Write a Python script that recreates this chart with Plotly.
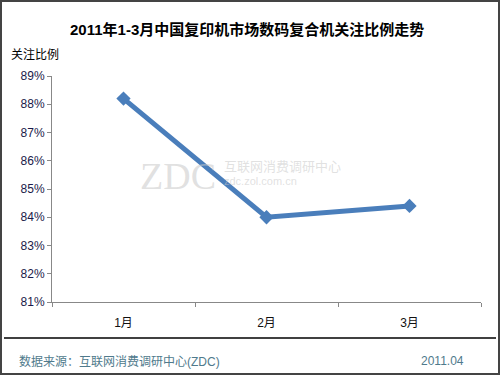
import plotly.graph_objects as go

months = ["1月", "2月", "3月"]
attention = [88.2, 84.0, 84.4]
y_ticks = [81, 82, 83, 84, 85, 86, 87, 88, 89]
y_labels = [f"{v}%" for v in y_ticks]

W, H = 500, 375
L, R, T, B = 52, 481, 76, 302

fig = go.Figure()
fig.add_trace(go.Scatter(
    x=months, y=attention, mode="lines+markers",
    line=dict(color="#4a7ebb", width=5),
    marker=dict(symbol="diamond", size=11, color="#4a7ebb"),
    showlegend=False, hoverinfo="skip",
))

font = "Liberation Sans, Noto Sans CJK SC, sans-serif"
fig.update_layout(
    width=W, height=H,
    margin=dict(l=L, r=W - R, t=T, b=H - B),
    paper_bgcolor="white", plot_bgcolor="white",
    font=dict(family=font, size=12, color="#111"),
    xaxis=dict(
        type="category", range=[-0.5, 2.5], tickson="boundaries",
        showgrid=False, showline=True, linecolor="#888", linewidth=1,
        ticks="outside", ticklen=4, tickcolor="#888",
        tickfont=dict(size=12, color="#111"), ticklabelstandoff=10,
        zeroline=False, fixedrange=True,
    ),
    yaxis=dict(
        range=[81, 89], tickvals=y_ticks, ticktext=y_labels,
        showgrid=False, showline=True, linecolor="#888", linewidth=1,
        ticks="outside", ticklen=4, tickcolor="#888",
        tickfont=dict(size=12, color="#1a1a4a"),
        zeroline=False, fixedrange=True,
    ),
    shapes=[
        dict(type="rect", xref="paper", yref="paper",
             x0=-L / (R - L) + 1 / (R - L), x1=1 + (W - R - 1) / (R - L),
             y0=-(H - B - 1) / (B - T), y1=1 + (T - 1) / (B - T),
             line=dict(color="#444", width=2)),
        dict(type="line", xref="paper", yref="paper",
             x0=(4 - L) / (R - L), x1=(496 - L) / (R - L),
             y0=-(338 - B) / (B - T), y1=-(338 - B) / (B - T),
             line=dict(color="#000", width=1.5)),
    ],
    annotations=[
        dict(text="<b>2011年1-3月中国复印机市场数码复合机关注比例走势</b>",
             xref="paper", yref="paper", x=(247 - L) / (R - L), y=1 + (T - 29) / (B - T),
             showarrow=False, xanchor="center", yanchor="middle",
             font=dict(size=15, color="#000", family=font)),
        dict(text="关注比例", xref="paper", yref="paper",
             x=(9 - L) / (R - L), y=1 + (T - 55) / (B - T),
             showarrow=False, xanchor="left", yanchor="middle",
             font=dict(size=12, color="#000", family=font)),
        dict(text="数据来源：互联网消费调研中心(ZDC)", xref="paper", yref="paper",
             x=(17 - L) / (R - L), y=-(361 - B) / (B - T),
             showarrow=False, xanchor="left", yanchor="middle",
             font=dict(size=12, color="#4f7a8c", family=font)),
        dict(text="2011.04", xref="paper", yref="paper",
             x=(466 - L) / (R - L), y=-(361 - B) / (B - T),
             showarrow=False, xanchor="right", yanchor="middle",
             font=dict(size=12, color="#4f7a8c", family=font)),
        dict(text="ZDC", xref="paper", yref="paper",
             x=(178 - L) / (R - L), y=1 - (176 - T) / (B - T),
             showarrow=False, xanchor="center", yanchor="middle",
             font=dict(size=38, color="rgba(200,200,200,0.55)", family="Liberation Serif")),
        dict(text="互联网消费调研中心", xref="paper", yref="paper",
             x=(222 - L) / (R - L), y=1 - (165 - T) / (B - T),
             showarrow=False, xanchor="left", yanchor="middle",
             font=dict(size=13, color="rgba(200,200,200,0.55)", family="Noto Sans CJK SC")),
        dict(text="zdc.zol.com.cn", xref="paper", yref="paper",
             x=(222 - L) / (R - L), y=1 - (181 - T) / (B - T),
             showarrow=False, xanchor="left", yanchor="middle",
             font=dict(size=11, color="rgba(200,200,200,0.55)", family="Liberation Sans")),
    ],
)

fig.write_html("out.html", config={"displayModeBar": False},
               post_script="document.body.style.margin='0';document.body.style.overflow='hidden';")
